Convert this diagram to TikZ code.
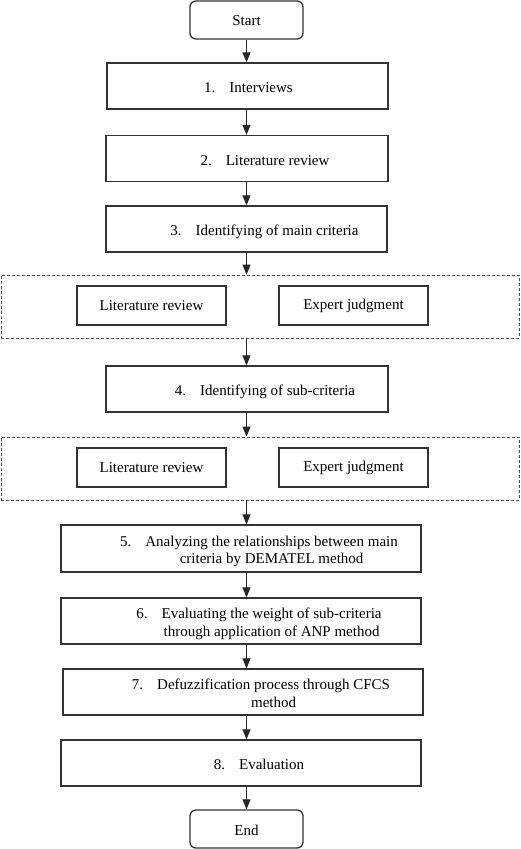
\documentclass[tikz,border=0pt]{standalone}
\usepackage{fontspec}
\setmainfont{Liberation Serif}
\usepackage{tikz}
\usetikzlibrary{arrows.meta,
                positioning,
                shapes}
\newcommand{\steplabel}[3][36pt]{\hspace*{#1}\raisebox{-3pt}[\height][\depth]{\begin{tabular}{@{}l@{\hspace{14pt}}c@{}}#2 & #3\end{tabular}}}

\begin{document}
\begin{tikzpicture}[
			x=1pt, y=-1pt,
			font=\fontsize{15}{17.5}\selectfont,
			stepbox/.style = {draw=black!80, line width=1.3pt, minimum height=46pt, inner sep=0pt},
			terminal/.style = {stepbox, rounded corners=6pt, minimum width=113pt, minimum height=38pt},
			source/.style = {stepbox, minimum width=149pt, minimum height=39pt},
			group/.style = {draw=black!70, line width=0.8pt, dash pattern=on 3pt off 2pt, minimum width=518pt, minimum height=63pt, inner sep=0pt},
			arr/.style = {-{Triangle[length=10pt, width=8pt]}, line width=1pt, black!85},
			]
			\useasboundingbox (0,0) rectangle (520,849);
			% start and main steps
			\node[terminal] (start) at (246.5,20) {\raisebox{-1pt}[\height][\depth]{Start}};
			\node[stepbox, minimum width=281pt] (interviews) at (247.5,86) {\steplabel[2pt]{1.}{Interviews}};
			\node[stepbox, minimum width=282pt] (litreview) at (247,158.5) {\steplabel{2.}{Literature review}};
			\node[stepbox, minimum width=281pt] (maincrit) at (246.5,229) {\steplabel{3.}{Identifying of main criteria}};
			% first group
			\node[group] (groupA) at (260,306.5) {};
			\node[source] (litA) at (151.5,305.5) {Literature review};
			\node[source] (expA) at (353.5,305.5) {Expert judgment};
			\node[stepbox, minimum width=282pt] (subcrit) at (247,389) {\steplabel{4.}{Identifying of sub-criteria}};
			% second group
			\node[group] (groupB) at (260,468.5) {};
			\node[source] (litB) at (151.5,467.5) {Literature review};
			\node[source] (expB) at (353.5,467.5) {Expert judgment};
			% methods
			\node[stepbox, minimum width=360pt, minimum height=47pt] (dematel) at (241,548.5) {\steplabel{5.}{Analyzing the relationships between main\\ & criteria by DEMATEL method}};
			\node[stepbox, minimum width=360pt] (anp) at (241,621) {\steplabel{6.}{Evaluating the weight of sub-criteria\\ & through application of ANP method}};
			\node[stepbox, minimum width=360pt] (cfcs) at (243,692) {\steplabel{7.}{Defuzzification process through CFCS\\ & method}};
			\node[stepbox, minimum width=360pt] (evaluation) at (241,763) {\steplabel{8.}{Evaluation}};
			\node[terminal] (end) at (246.5,829) {\raisebox{-1pt}[\height][\depth]{End}};
			% arrows
			\draw[arr] (start) -- (start |- interviews.north);
			\draw[arr] (interviews.south -| start) -- (start |- litreview.north);
			\draw[arr] (litreview.south -| start) -- (start |- maincrit.north);
			\draw[arr] (maincrit.south -| start) -- (start |- groupA.north);
			\draw[arr] (groupA.south -| start) -- (start |- subcrit.north);
			\draw[arr] (subcrit.south -| start) -- (start |- groupB.north);
			\draw[arr] (groupB.south -| start) -- (start |- dematel.north);
			\draw[arr] (dematel.south -| start) -- (start |- anp.north);
			\draw[arr] (anp.south -| start) -- (start |- cfcs.north);
			\draw[arr] (cfcs.south -| start) -- (start |- evaluation.north);
			\draw[arr] (evaluation.south -| start) -- (end);
		\end{tikzpicture}
\end{document}
